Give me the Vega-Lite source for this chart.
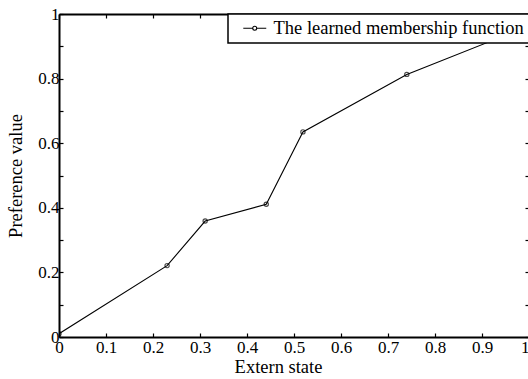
{
  "$schema": "https://vega.github.io/schema/vega-lite/v6.json",
  "width": 470,
  "height": 323,
  "autosize": {"type": "none"},
  "padding": {"left": 59, "top": 14, "right": 0, "bottom": 42},
  "background": "white",
  "config": {
    "font": "Times New Roman, Liberation Serif, serif",
    "view": {"stroke": null},
    "legend": {"strokeWidth": 1.5},
    "axis": {
      "domainColor": "black",
      "domainWidth": 2,
      "tickColor": "black",
      "tickWidth": 1.2,
      "tickSize": -4,
      "grid": false,
      "labelFlush": false,
      "labelFont": "Times New Roman, Liberation Serif, serif",
      "labelFontSize": 17,
      "labelColor": "black",
      "titleFont": "Times New Roman, Liberation Serif, serif",
      "titleFontSize": 18.5,
      "titleFontWeight": "normal",
      "titleColor": "black"
    }
  },
  "data": {
    "values": [
      {"state": 0.0, "pref": 0.01, "series": "The learned membership function"},
      {"state": 0.23, "pref": 0.221, "series": "The learned membership function"},
      {"state": 0.311, "pref": 0.359, "series": "The learned membership function"},
      {"state": 0.441, "pref": 0.411, "series": "The learned membership function"},
      {"state": 0.519, "pref": 0.635, "series": "The learned membership function"},
      {"state": 0.74, "pref": 0.813, "series": "The learned membership function"},
      {"state": 1.0, "pref": 0.963, "series": "The learned membership function"}
    ]
  },
  "resolve": {"axis": {"x": "independent", "y": "independent"}},
  "layer": [
    {
      "mark": {"type": "line", "color": "#3a3a3a", "strokeWidth": 1.1, "clip": true},
      "encoding": {
        "x": {
          "field": "state", "type": "quantitative",
          "scale": {"domain": [0, 1], "nice": false},
          "axis": {
            "orient": "bottom", "title": "Extern state",
            "values": [0, 0.1, 0.2, 0.3, 0.4, 0.5, 0.6, 0.7, 0.8, 0.9, 1],
            "format": "~g", "labelPadding": 6, "titlePadding": 2,
            "labelAlign": {"condition": {"test": "datum.value >= 1", "value": "right"}, "value": "center"},
            "titleX": 219, "titleAlign": "center"
          }
        },
        "y": {
          "field": "pref", "type": "quantitative",
          "scale": {"domain": [0, 1], "nice": false},
          "axis": {
            "orient": "left", "title": "Preference value",
            "values": [0, 0.1, 0.2, 0.3, 0.4, 0.5, 0.6, 0.7, 0.8, 0.9, 1],
            "labelExpr": "round(datum.value * 10) % 2 === 0 ? format(datum.value, '~g') : ''",
            "labelPadding": 4, "titlePadding": 12
          }
        },
        "color": {
          "field": "series", "type": "nominal",
          "scale": {"range": ["black"]},
          "legend": {
            "title": null,
            "orient": "top-right",
            "offset": 0,
            "padding": 5,
            "strokeColor": "black",
            "fillColor": "white",
            "labelFont": "Times New Roman, Liberation Serif, serif",
            "labelFontSize": 18.5,
            "labelColor": "black",
            "labelLimit": 400,
            "labelOffset": 22,
            "symbolType": "M 0.17 0 L 1.75 0 M 2.41 0 L 4 0 M 1.75 0 A 0.33 0.33 0 1 0 2.41 0 A 0.33 0.33 0 1 0 1.75 0",
            "symbolSize": 144,
            "symbolStrokeColor": "black",
            "symbolStrokeWidth": 1.1,
            "symbolFillColor": "transparent"
          }
        }
      }
    },
    {
      "mark": {"type": "point", "shape": "circle", "filled": false, "size": 18, "stroke": "black", "strokeWidth": 1.2, "clip": true},
      "encoding": {
        "x": {
          "field": "state", "type": "quantitative",
          "scale": {"domain": [0, 1], "nice": false},
          "axis": {
            "orient": "top", "title": null, "labels": false,
            "values": [0, 0.1, 0.2, 0.3, 0.4, 0.5, 0.6, 0.7, 0.8, 0.9, 1]
          }
        },
        "y": {
          "field": "pref", "type": "quantitative",
          "scale": {"domain": [0, 1], "nice": false},
          "axis": {
            "orient": "right", "title": null, "labels": false,
            "values": [0, 0.1, 0.2, 0.3, 0.4, 0.5, 0.6, 0.7, 0.8, 0.9, 1]
          }
        }
      }
    }
  ]
}
